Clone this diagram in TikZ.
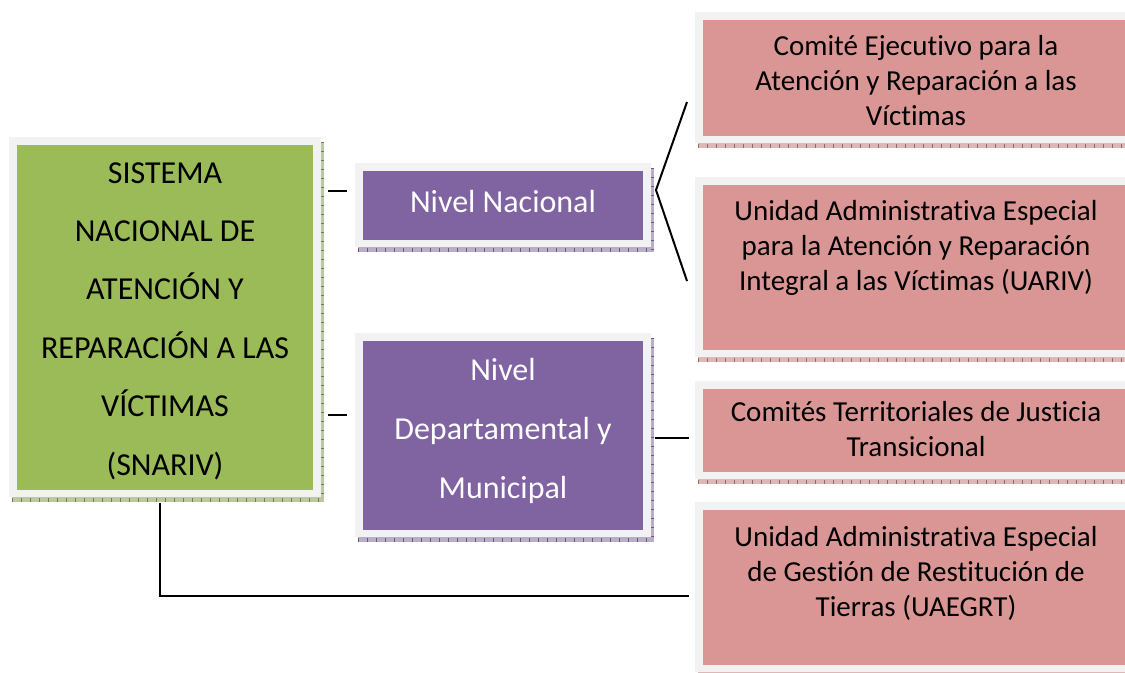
\documentclass[tikz,border=0pt]{standalone}
\usepackage{fontspec}
\setmainfont[Ligatures=NoCommon]{Carlito}
\usetikzlibrary{backgrounds,calc}
\definecolor{sgreen}{HTML}{9BBB59}
\definecolor{spurple}{HTML}{8064A2}
\definecolor{spink}{HTML}{D99694}
\definecolor{sframe}{HTML}{F2F2F2}
\definecolor{shgreen}{HTML}{BCC8A0}
\definecolor{tkgreen}{HTML}{6F8048}
\definecolor{shpurple}{HTML}{B8AEC8}
\definecolor{tkpurple}{HTML}{6C5A84}
\definecolor{shpink}{HTML}{DDB8B7}
\definecolor{tkpink}{HTML}{9E6664}
\tikzset{
  boxnode/.style={rectangle, inner sep=0pt, outer sep=0pt, draw=none},
  gbox/.style={boxnode, fill=sgreen},
  pbox/.style={boxnode, fill=spurple},
  rbox/.style={boxnode, fill=spink},
  gtext/.style={align=center, inner sep=0pt, text=black, font=\fontsize{24}{43.8}\selectfont},
  ptext/.style={align=center, inner sep=0pt, text=white, font=\fontsize{24}{44.25}\selectfont},
  rtext/.style={align=center, inner sep=0pt, text=black, font=\fontsize{21.75}{26.25}\selectfont},
  conn/.style={draw=black, line width=1.5pt},
}
\newcommand\mkframe[3]{%
  \fill[#2] ($(#1.north west)+(-5,-3)$) rectangle ($(#1.south east)+(11,12)$);
  \draw[#3, line width=3pt, dash pattern=on 0.75pt off 6pt] ($(#1.south west)+(-5,9.5)$) -- ($(#1.south east)+(11,9.5)$);
  \draw[#3, line width=2pt, dash pattern=on 0.75pt off 6pt] ($(#1.north east)+(9.5,-3)$) -- ($(#1.south east)+(9.5,12)$);
  \fill[sframe] ($(#1.north west)+(-8,-8)$) rectangle ($(#1.south east)+(8,7)$);
}
\begin{document}
\begin{tikzpicture}[x=0.75pt,y=-0.75pt]
\path[use as bounding box] (0,0) rectangle (1125,672);
\clip (0,0) rectangle (1125,672);
% boxes
\node[gbox, minimum width=296*0.75pt, minimum height=345*0.75pt] (snariv) at (165,317.5) {};
\node[pbox, minimum width=280*0.75pt, minimum height=69*0.75pt] (nac) at (503,205.5) {};
\node[pbox, minimum width=280*0.75pt, minimum height=189*0.75pt] (dep) at (503,435.5) {};
\node[rbox, minimum width=426*0.75pt, minimum height=116*0.75pt] (comite) at (916,78) {};
\node[rbox, minimum width=426*0.75pt, minimum height=165*0.75pt] (uariv) at (916,267.5) {};
\node[rbox, minimum width=426*0.75pt, minimum height=83*0.75pt] (ctjt) at (916,430.5) {};
\node[rbox, minimum width=426*0.75pt, minimum height=155*0.75pt] (uaegrt) at (916,587.5) {};
\begin{scope}[on background layer]
  \mkframe{snariv}{shgreen}{tkgreen}
  \mkframe{nac}{shpurple}{tkpurple}
  \mkframe{dep}{shpurple}{tkpurple}
  \mkframe{comite}{shpink}{tkpink}
  \mkframe{uariv}{shpink}{tkpink}
  \mkframe{ctjt}{shpink}{tkpink}
  \mkframe{uaegrt}{shpink}{tkpink}
\end{scope}
% texts
\node[gtext] (snarivt) at (165,321) {SISTEMA\\NACIONAL DE\\ATENCIÓN Y\\REPARACIÓN A LAS\\VÍCTIMAS\\(SNARIV)};
\node[ptext] (nact) at (503,202) {Nivel Nacional};
\node[ptext] (dept) at (503,430.5) {Nivel\\Departamental y\\Municipal};
\node[rtext] (comitet) at (916,81) {Comité Ejecutivo para la\\Atención y Reparación a las\\Víctimas};
\node[rtext] (uarivt) at (916,248) {Unidad Administrativa Especial\\para la Atención y Reparación\\Integral a las Víctimas (UARIV)};
\node[rtext] (ctjtt) at (916,429.5) {Comités Territoriales de Justicia\\Transicional};
\node[rtext] (uaegrtt) at (916,573) {Unidad Administrativa Especial\\de Gestión de Restitución de\\Tierras (UAEGRT)};
% connectors
\coordinate (c1a) at (328,191);
\coordinate (c1b) at (347,191);
\coordinate (c2a) at (328,415);
\coordinate (c2b) at (347,415);
\draw[conn] (c1a) -- (c1b);
\draw[conn] (c2a) -- (c2b);
\coordinate (brt) at (687,102);
\coordinate (bra) at (656,190);
\coordinate (brb) at (687,281);
\draw[conn, line join=miter] (brt) -- (bra) -- (brb);
\coordinate (d1) at (655,438);
\coordinate (d2) at (689,438);
\draw[conn] (d1) -- (d2);
\coordinate (e1) at (160,503);
\coordinate (e2) at (160,596);
\coordinate (e3) at (689,596);
\draw[conn] (e1) -- (e2) -- (e3);
\end{tikzpicture}
\end{document}
